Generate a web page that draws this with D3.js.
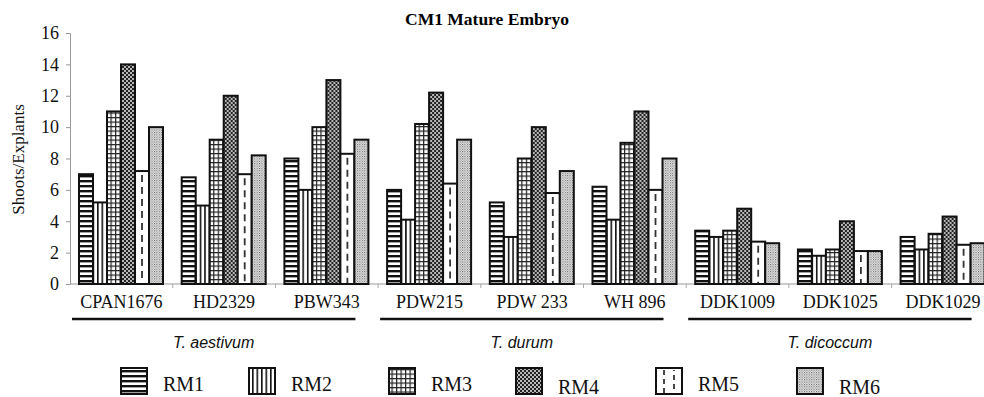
<!DOCTYPE html>
<html>
<head>
<meta charset="utf-8">
<script src="https://cdn.jsdelivr.net/npm/d3@7"></script>
<style>
  html, body { margin: 0; padding: 0; background: #fff; }
  svg { display: block; }
</style>
</head>
<body>
<svg id="chart" width="984" height="397"></svg>
<script>
// ---------------- DATA ----------------
const categories = ["CPAN1676", "HD2329", "PBW343", "PDW215", "PDW 233", "WH 896", "DDK1009", "DDK1025", "DDK1029"];
const seriesNames = ["RM1", "RM2", "RM3", "RM4", "RM5", "RM6"];
const rm1 = [7.0, 6.8, 8.0, 6.0, 5.2, 6.2, 3.4, 2.2, 3.0];
const rm2 = [5.2, 5.0, 6.0, 4.1, 3.0, 4.1, 3.0, 1.8, 2.2];
const rm3 = [11.0, 9.2, 10.0, 10.2, 8.0, 9.0, 3.4, 2.2, 3.2];
const rm4 = [14.0, 12.0, 13.0, 12.2, 10.0, 11.0, 4.8, 4.0, 4.3];
const rm5 = [7.2, 7.0, 8.3, 6.4, 5.8, 6.0, 2.7, 2.1, 2.5];
const rm6 = [10.0, 8.2, 9.2, 9.2, 7.2, 8.0, 2.6, 2.1, 2.6];
const yTicks = [0, 2, 4, 6, 8, 10, 12, 14, 16];
const speciesNames = ["T. aestivum", "T. durum", "T. dicoccum"];
const speciesFirst = [0, 3, 6];
const speciesLast = [2, 5, 8];
const titleText = "CM1 Mature Embryo";
const yLabel = "Shoots/Explants";

// ---------------- LAYOUT ----------------
const W = 984, H = 397;
const plotLeft = 70, step = 102.7;
const legendX = [121, 249, 389, 516, 656, 797];
const legendTextDy = [0, 0, 0, 3, 0, 3];

const values = [rm1, rm2, rm3, rm4, rm5, rm6];
const svg = d3.select("#chart");
const serif = "'Liberation Serif', 'Times New Roman', serif";
const sans = "'Liberation Sans', Arial, sans-serif";

// ---------------- PATTERNS ----------------
const defs = svg.append("defs");
function pat(id, w, h) {
  return defs.append("pattern").attr("id", id).attr("patternUnits", "userSpaceOnUse")
    .attr("width", w).attr("height", h);
}
// RM1 horizontal stripes
let p = pat("p0", 5, 5);
p.append("rect").attr("width", 5).attr("height", 5).attr("fill", "#fff");
p.append("rect").attr("width", 5).attr("height", 2.4).attr("fill", "#111");
// RM2 vertical lines
p = pat("p1", 4.5, 4);
p.append("rect").attr("width", 4.5).attr("height", 4).attr("fill", "#fff");
p.append("rect").attr("width", 1.6).attr("height", 4).attr("fill", "#111");
// RM3 grid
p = pat("p2", 4.5, 4.5);
p.append("rect").attr("width", 4.5).attr("height", 4.5).attr("fill", "#fff");
p.append("rect").attr("width", 4.5).attr("height", 1.2).attr("fill", "#222");
p.append("rect").attr("width", 1.2).attr("height", 4.5).attr("fill", "#222");
// RM4 dark with white dots
p = pat("p3", 4, 4);
p.append("rect").attr("width", 4).attr("height", 4).attr("fill", "#222");
p.append("circle").attr("cx", 1).attr("cy", 1).attr("r", 0.9).attr("fill", "#fff");
p.append("circle").attr("cx", 3).attr("cy", 3).attr("r", 0.9).attr("fill", "#fff");
// RM5 white (dashes drawn separately)
p = pat("p4", 4, 4);
p.append("rect").attr("width", 4).attr("height", 4).attr("fill", "#fff");
// RM6 fine stipple
p = pat("p5", 2.4, 2.4);
p.append("rect").attr("width", 2.4).attr("height", 2.4).attr("fill", "#ececec");
p.append("rect").attr("width", 1).attr("height", 1).attr("fill", "#555");
p.append("rect").attr("x", 1.2).attr("y", 1.2).attr("width", 1).attr("height", 1).attr("fill", "#888");

// ---------------- SCALES ----------------
const x = d3.scaleBand().domain(categories).range([plotLeft, plotLeft + step * categories.length]).padding(0);
const xs = d3.scaleBand().domain(seriesNames).range([9, 93]).padding(0);
const y = d3.scaleLinear().domain([0, 16]).range([284, 33]);

// ---------------- TITLE ----------------
svg.append("text").attr("x", 487).attr("y", 25).attr("text-anchor", "middle")
  .attr("font-family", serif).attr("font-weight", "bold").attr("font-size", 17.5)
  .text(titleText);

// ---------------- Y AXIS ----------------
const yAxis = svg.append("g").attr("transform", `translate(${plotLeft},0)`)
  .call(d3.axisLeft(y).tickValues(yTicks).tickSize(4).tickPadding(7).tickFormat(d3.format("d")));
yAxis.select(".domain").attr("stroke", "#999");
yAxis.selectAll(".tick line").attr("stroke", "#999");
yAxis.selectAll(".tick text").attr("font-family", serif).attr("font-size", 18).attr("fill", "#111");

svg.append("text")
  .attr("transform", `translate(24,${(y(0) + y(16)) / 2 + 1}) rotate(-90)`)
  .attr("text-anchor", "middle").attr("font-family", serif).attr("font-size", 17).attr("fill", "#111")
  .text(yLabel);

// ---------------- X AXIS BASELINE ----------------
svg.append("line").attr("x1", plotLeft).attr("x2", W).attr("y1", y(0)).attr("y2", y(0))
  .attr("stroke", "#999").attr("stroke-width", 1);
svg.selectAll(".xtick").data(categories.slice(1)).enter().append("line")
  .attr("x1", d => x(d)).attr("x2", d => x(d)).attr("y1", y(0)).attr("y2", y(0) + 4)
  .attr("stroke", "#aaa");

// ---------------- BARS ----------------
const groups = svg.selectAll(".grp").data(categories).enter().append("g")
  .attr("transform", d => `translate(${x(d)},0)`);

seriesNames.forEach((s, si) => {
  groups.append("rect")
    .attr("x", xs(s)).attr("width", xs.bandwidth())
    .attr("y", (d, i) => y(values[si][i]))
    .attr("height", (d, i) => y(0) - y(values[si][i]))
    .attr("fill", `url(#p${si})`)
    .attr("stroke", "#111").attr("stroke-width", 2);
});
// RM5 dashed centre line
groups.append("line")
  .attr("x1", xs("RM5") + xs.bandwidth() / 2).attr("x2", xs("RM5") + xs.bandwidth() / 2)
  .attr("y1", (d, i) => y(values[4][i]) + 4).attr("y2", y(0) - 1)
  .attr("stroke", "#333").attr("stroke-width", 1.8).attr("stroke-dasharray", "7,5");

// ---------------- CATEGORY LABELS ----------------
svg.selectAll(".clab").data(categories).enter().append("text")
  .attr("x", d => x(d) + x.bandwidth() / 2).attr("y", 308)
  .attr("text-anchor", "middle").attr("font-family", serif).attr("font-size", 18).attr("fill", "#111")
  .text(d => d);

// ---------------- SPECIES GROUPS ----------------
speciesNames.forEach((name, k) => {
  const x1 = x(categories[speciesFirst[k]]) + 2;
  const x2 = x(categories[speciesLast[k]]) + 80;
  svg.append("line").attr("x1", x1).attr("x2", x2).attr("y1", 319).attr("y2", 319)
    .attr("stroke", "#111").attr("stroke-width", 2.5);
  svg.append("text").attr("x", (x1 + x2) / 2).attr("y", 348).attr("text-anchor", "middle")
    .attr("font-family", sans).attr("font-style", "italic").attr("font-size", 16).attr("fill", "#111")
    .text(name);
});

// ---------------- LEGEND ----------------
seriesNames.forEach((s, si) => {
  const lx = legendX[si];
  svg.append("rect").attr("x", lx).attr("y", 368).attr("width", 26).attr("height", 26)
    .attr("fill", `url(#p${si})`).attr("stroke", "#111").attr("stroke-width", 2);
  if (si === 4) {
    [8, 18].forEach((dx, j) => {
      svg.append("line").attr("x1", lx + dx).attr("x2", lx + dx).attr("y1", 370).attr("y2", 393)
        .attr("stroke", "#333").attr("stroke-width", 1.8).attr("stroke-dasharray", "5,4")
        .attr("stroke-dashoffset", j * 4);
    });
  }
  svg.append("text").attr("x", lx + 42).attr("y", 391 + legendTextDy[si])
    .attr("font-family", serif).attr("font-size", 20).attr("fill", "#111").text(s);
});
</script>
</body>
</html>
